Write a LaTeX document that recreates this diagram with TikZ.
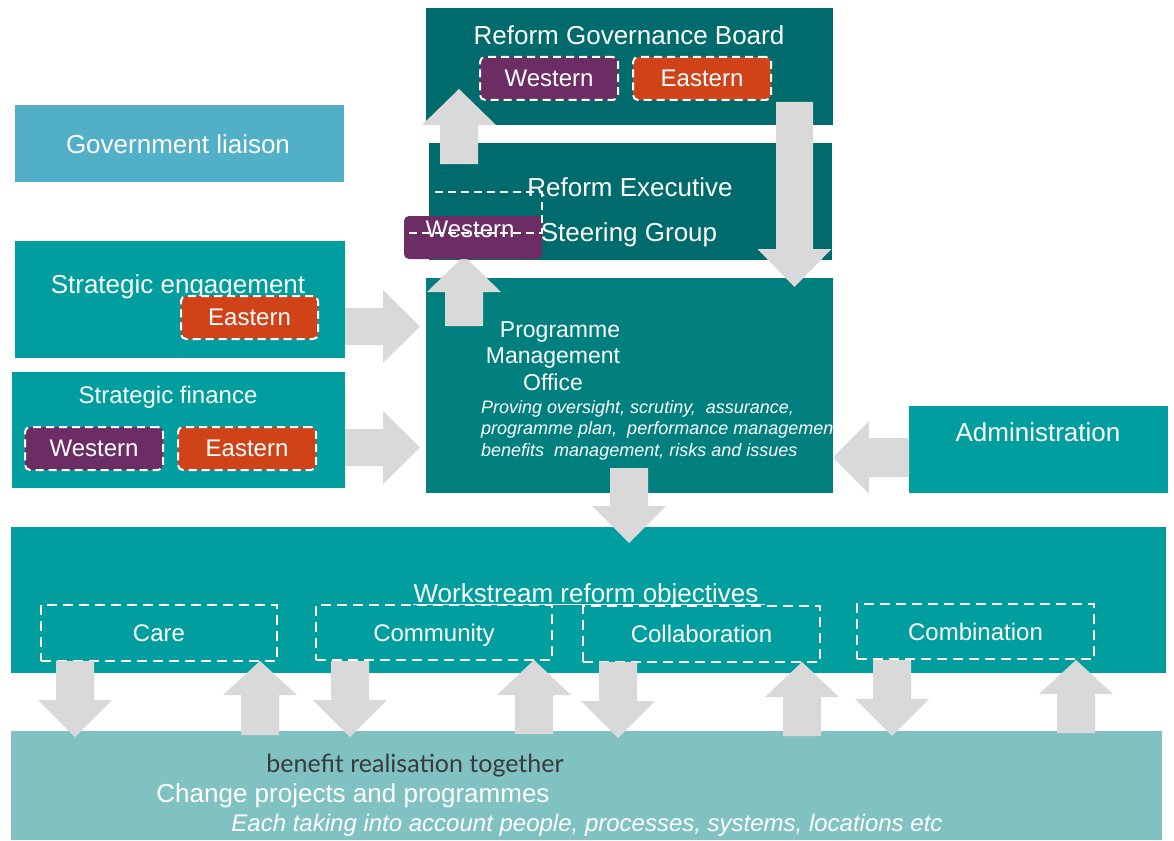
\documentclass[tikz,border=0pt]{standalone}
\usepackage{fontspec}
\setmainfont{Liberation Sans}
\newfontfamily\ralefont{Lato}
\usetikzlibrary{calc,fit}
\definecolor{govteal}{HTML}{006B6C}
\definecolor{pmoteal}{HTML}{007F7F}
\definecolor{midteal}{HTML}{009E9E}
\definecolor{liaisonblue}{HTML}{51B0C8}
\definecolor{paleteal}{HTML}{80C2C2}
\definecolor{wpurple}{HTML}{6B2D64}
\definecolor{eorange}{HTML}{D04319}
\definecolor{arrowgrey}{HTML}{D9D9D9}
\definecolor{darktext}{HTML}{3A3A3A}
% block arrow: #1 start, #2 tip, #3 shaft half width, #4 head half width, #5 head length
\newcommand\blockarrow[5]{%
  \coordinate (ba-base) at ($(#2)!#5!(#1)$);
  \fill[arrowgrey]
    ($(#1)!#3!90:(#2)$) -- ($(ba-base)!#3!90:(#2)$) -- ($(ba-base)!#4!90:(#2)$) -- (#2)
    -- ($(ba-base)!#4!-90:(#2)$) -- ($(ba-base)!#3!-90:(#2)$) -- ($(#1)!#3!-90:(#2)$) -- cycle;
}
\begin{document}
\begin{tikzpicture}[x=1pt,y=-1pt,
  panel/.style={inner sep=0pt, outer sep=0pt, draw=none},
  lbl/.style={text=white, inner sep=0pt, font=\fontsize{26}{31}\selectfont},
  tagbox/.style={inner sep=0pt, rounded corners=5pt, draw=white, line width=2pt,
                 dash pattern=on 8pt off 5pt, text=white, font=\fontsize{24}{28}\selectfont,
                 minimum width=138pt, minimum height=43pt},
  wsbox/.style={inner sep=0pt, draw=white, line width=2pt, text depth=0pt,
                 dash pattern=on 10pt off 6pt, text=white, font=\fontsize{24}{28}\selectfont,
                 minimum width=236pt, minimum height=55pt},
]
\useasboundingbox (0,0) rectangle (1174,840);
\fill[white] (0,0) rectangle (1174,840);

% ---- main panels
\node[panel, fill=govteal, fit={(426,8) (833,125)}] (gov) {};
\node[panel, fill=govteal, fit={(429,143) (832,260)}] (steer) {};
\node[panel, fill=pmoteal, fit={(426,278) (833,493)}] (pmo) {};
\node[panel, fill=liaisonblue, fit={(15,105) (344,182)}] (liaison) {};
\node[panel, fill=midteal, fit={(15,241) (345,358)}] (engage) {};
\node[panel, fill=midteal, fit={(12,372) (345,488)}] (finance) {};
\node[panel, fill=midteal, fit={(909,406) (1168,493)}] (admin) {};
\node[panel, fill=midteal, fit={(11,527) (1166,673)}] (work) {};
\node[panel, fill=paleteal, fit={(11,731) (1162,840)}] (change) {};

% ---- labels
\node[lbl, anchor=base] (govlbl) at (629,45) {Reform Governance Board};
\node[tagbox, fill=wpurple] (govW) at (549,78.5) {Western};
\node[tagbox, fill=eorange] (govE) at (702,78.5) {Eastern};

\node[lbl, anchor=base] (steerlbl1) at (630,196) {Reform Executive};
\node[lbl, anchor=base] (steerlbl2) at (629,241) {Steering Group};

\node[lbl, anchor=base] (liaisonlbl) at (178,153) {Government liaison};
\node[lbl, anchor=base] (engagelbl) at (178,293) {Strategic engagement};
\node[tagbox, fill=eorange, minimum width=137pt] (engE) at (249.5,317.5) {Eastern};
\node[lbl, anchor=base, font=\fontsize{24}{28}\selectfont] (financelbl) at (168,403) {Strategic finance};
\node[tagbox, fill=wpurple] (finW) at (94,448.5) {Western};
\node[tagbox, fill=eorange] (finE) at (247,448.5) {Eastern};
\node[lbl, anchor=base] (adminlbl) at (1038,441) {Administration};

\node[lbl, anchor=base, align=center, font=\fontsize{23}{26.5}\selectfont] (pmolbl) at (553,390)
  {\hspace*{14pt}Programme\\Management\\Office};
\begin{scope}
  \clip (426,278) rectangle (833,493);
  \node[text=white, inner sep=0pt, anchor=base west, align=left,
        font=\fontsize{18}{21.5}\selectfont\itshape] (pmodesc) at (481,456)
    {Proving oversight, scrutiny,\ \ assurance,\\programme plan,\ \ performance management,\\benefits\ \ management, risks and issues};
\end{scope}

\node[lbl, anchor=base] (worklbl) at (586,602) {Workstream reform objectives};
\draw[white, line width=1pt] ([yshift=-2pt]worklbl.base west) -- ([yshift=-2pt, xshift=6pt]worklbl.base east);
\node[wsbox, minimum height=56pt] (care) at (159,633) {Care};
\node[wsbox] (community) at (434,632.5) {Community};
\node[wsbox, minimum width=237pt, minimum height=56pt] (collab) at (701.5,634) {Collaboration};
\node[wsbox, minimum width=237pt] (combo) at (975.5,631.5) {Combination};

\node[inner sep=0pt, anchor=base, text=darktext, font=\ralefont\fontsize{25}{29}\selectfont] (benefit) at (415,772) {benefit realisation together};
\node[lbl, anchor=base] (changelbl) at (353,802) {Change projects and programmes};
\node[inner sep=0pt, anchor=base, text=white, font=\fontsize{24}{28}\selectfont\itshape] (eachlbl) at (587,831)
  {Each taking into account people, processes, systems, locations etc};

% ---- arrow end points
\coordinate (a1s) at (459,164);  \coordinate (a1e) at (459,89);
\coordinate (a2s) at (794.5,102); \coordinate (a2e) at (794.5,287);
\coordinate (a3s) at (464,326);  \coordinate (a3e) at (464,256);
\coordinate (a4s) at (345,326.5);  \coordinate (a4e) at (420,326.5);
\coordinate (a5s) at (345,447.5);  \coordinate (a5e) at (420,447.5);
\coordinate (a6s) at (909,457.5);  \coordinate (a6e) at (833,457.5);
\coordinate (a7s) at (629,468);  \coordinate (a7e) at (629,543);
\coordinate (b1s) at (75,661);   \coordinate (b1e) at (75,737);
\coordinate (b2s) at (260,735);  \coordinate (b2e) at (260,661);
\coordinate (b3s) at (350,661);  \coordinate (b3e) at (350,737);
\coordinate (b4s) at (534,734);  \coordinate (b4e) at (534,660);
\coordinate (b5s) at (618,662);  \coordinate (b5e) at (618,738);
\coordinate (b6s) at (802,736);  \coordinate (b6e) at (802,662);
\coordinate (b7s) at (892,660);  \coordinate (b7e) at (892,736);
\coordinate (b8s) at (1076,733); \coordinate (b8e) at (1076,660);

\blockarrow{a1s}{a1e}{19pt}{37pt}{36pt}
\blockarrow{a2s}{a2e}{18.5pt}{37pt}{38pt}
\blockarrow{a3s}{a3e}{19pt}{37pt}{36pt}
\blockarrow{a4s}{a4e}{18.5pt}{36.5pt}{37pt}
\blockarrow{a5s}{a5e}{18.5pt}{36.5pt}{37pt}
\blockarrow{a6s}{a6e}{19.5pt}{36.5pt}{36pt}
\blockarrow{a7s}{a7e}{19pt}{37pt}{37pt}
\blockarrow{b1s}{b1e}{19pt}{37pt}{37pt}
\blockarrow{b2s}{b2e}{19pt}{37pt}{34pt}
\blockarrow{b3s}{b3e}{19pt}{37pt}{37pt}
\blockarrow{b4s}{b4e}{19pt}{37pt}{35pt}
\blockarrow{b5s}{b5e}{19pt}{37pt}{37pt}
\blockarrow{b6s}{b6e}{19pt}{37pt}{35pt}
\blockarrow{b7s}{b7e}{19pt}{37pt}{37pt}
\blockarrow{b8s}{b8e}{19pt}{37pt}{34pt}

% ---- steering group Western tag (over the arrow tip)
\node[panel, fill=wpurple, rounded corners=5pt, fit={(404,216) (542,259)}] (steerW) {};
\node[inner sep=0pt, anchor=base, text=white, font=\fontsize{24}{28}\selectfont] (steerWlbl) at (470,237) {Western};
\draw[white, line width=2pt, dash pattern=on 8pt off 5pt]
  (435,192) -- (542,192) -- (542,233) -- (405,233);
\end{tikzpicture}
\end{document}
